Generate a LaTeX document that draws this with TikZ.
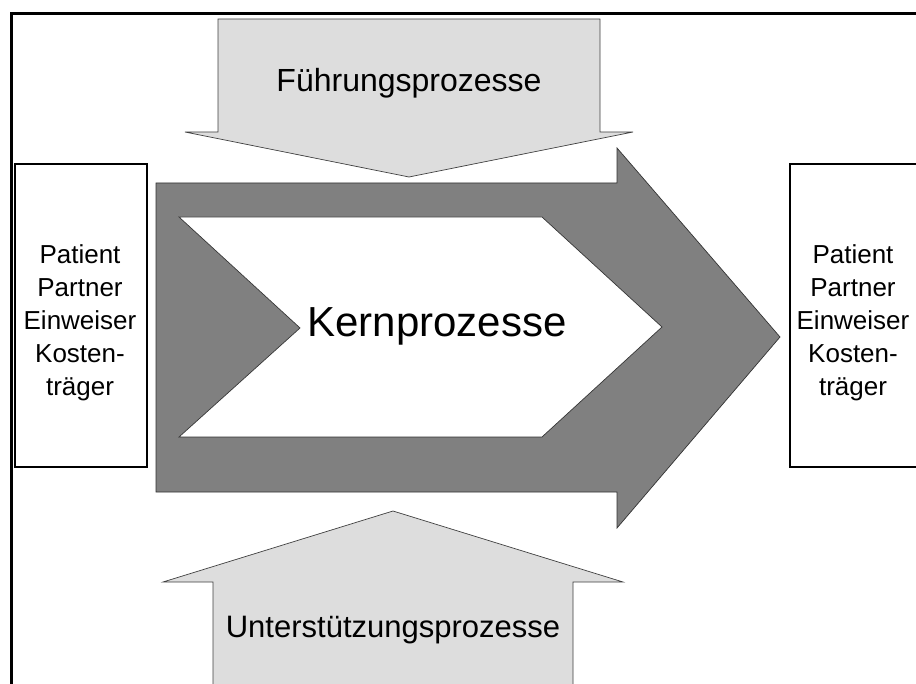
\documentclass[tikz,border=0pt]{standalone}
\usepackage{fontspec}
\setmainfont{Liberation Sans}
\usepackage{tikz}
\usetikzlibrary{positioning}

\definecolor{lightgray}{HTML}{DDDDDD}
\definecolor{coregray}{HTML}{808080}

\tikzset{
    side arrow/.style={fill=lightgray, draw=black!75, line width=0.7pt, line join=miter},
    core arrow/.style={fill=coregray, draw=black!80, line width=0.7pt, line join=miter},
    partner box/.style={draw=black, line width=2pt},
    partner text/.style={align=center, inner sep=0pt, font=\fontsize{26}{33}\selectfont},
}

\begin{document}
\begin{tikzpicture}[x=1pt, y=-1pt]
    \useasboundingbox (0,0) rectangle (916,684);
    \clip (0,0) rectangle (916,684);

    % outer frame (only top and left edge visible)
    \draw[line width=3pt] (11,14) rectangle (1000,800);

    % Kernprozesse
    \draw[core arrow] (156,183) -- (617,183) -- (617,148) -- (780,337)
        -- (617,528) -- (617,492) -- (156,492) -- cycle;
    \draw[fill=white, draw=black!80, line width=0.7pt] (179,217) -- (542,217) -- (662,327)
        -- (542,437) -- (179,437) -- (300,328) -- cycle;
    \node[anchor=base, inner sep=0pt, font=\fontsize{42}{50}\selectfont] (kern) at (437,337) {Kernprozesse};

    % Fuehrungsprozesse
    \draw[side arrow] (218,19) -- (600,19) -- (600,132) -- (633,132)
        -- (409,177) -- (185,132) -- (218,132) -- cycle;
    \node[anchor=base, inner sep=0pt, font=\fontsize{32}{38}\selectfont] (fuehrung) at (409,92) {Führungsprozesse};

    % Unterstuetzungsprozesse
    \draw[side arrow] (213,690) -- (213,582) -- (163,582) -- (393,511)
        -- (623,582) -- (573,582) -- (573,690) -- cycle;
    \node[anchor=base, inner sep=0pt, font=\fontsize{31}{38}\selectfont] (support) at (393,637) {Unterstützungsprozesse};

    % partners left and right
    \draw[partner box] (15,164) rectangle (147,467);
    \node[partner text] (left) at (80,323) {Patient\\Partner\\Einweiser\\Kosten-\\träger};
    \draw[partner box] (790,164) rectangle (930,467);
    \node[partner text] (right) at (853,323) {Patient\\Partner\\Einweiser\\Kosten-\\träger};
\end{tikzpicture}
\end{document}
